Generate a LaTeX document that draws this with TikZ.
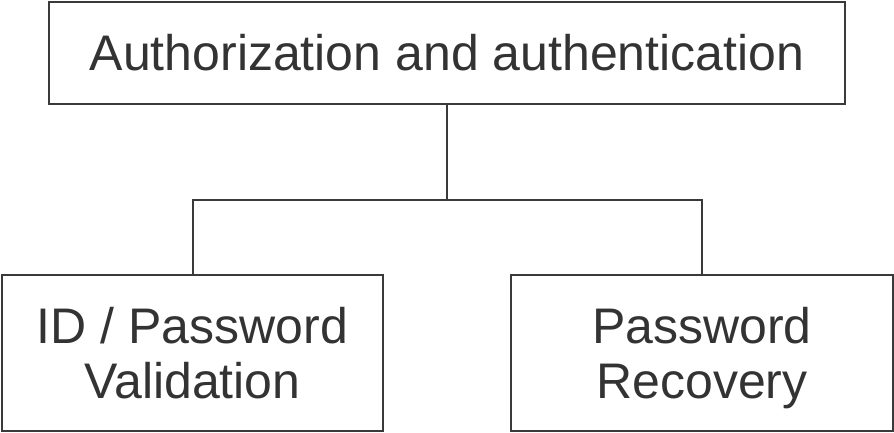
\documentclass[tikz,border=0pt]{standalone}
\usepackage{fontspec}
\setmainfont{Liberation Sans}
\definecolor{linegray}{HTML}{3A3A3A}
\definecolor{textgray}{HTML}{333333}
\tikzset{
  box/.style={draw=linegray, line width=2pt, text=textgray, align=center,
    inner sep=0pt, font=\fontsize{50}{55}\selectfont},
  link/.style={draw=linegray, line width=2pt}
}
\begin{document}
\begin{tikzpicture}[x=1pt, y=-1pt]
\useasboundingbox (0,0) rectangle (894,433);
\node [box, minimum width=796pt, minimum height=102pt] (auth) at (447,53) {Authorization and authentication};
\node [box, minimum width=381pt, minimum height=156pt, text depth=0pt] (idpw) at (192.5,353) {ID / Password\\Validation};
\node [box, minimum width=382pt, minimum height=156pt, text depth=0pt] (recov) at (702,353) {Password\\Recovery};
\coordinate (fork) at (447,200);
\draw [link] (auth.south) -- (fork);
\draw [link] (idpw.north) |- (fork) -| (recov.north);
\end{tikzpicture}
\end{document}
